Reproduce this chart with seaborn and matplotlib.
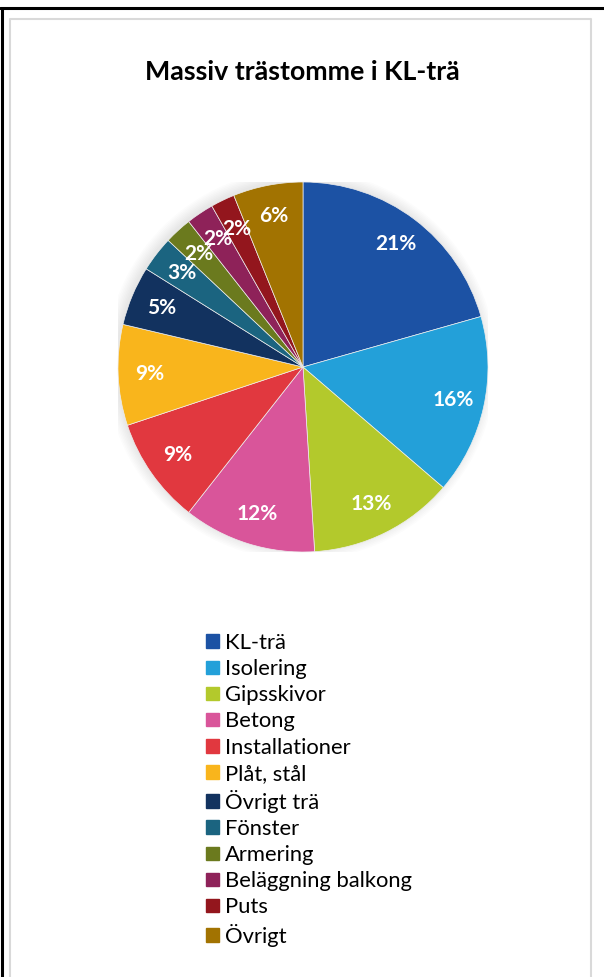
import matplotlib
matplotlib.use("Agg")
import matplotlib.pyplot as plt
from matplotlib.patches import Patch, Circle
from matplotlib.lines import Line2D
import seaborn as sns

sns.set_theme(style="white")
plt.rcParams['font.family'] = ['Lato', 'DejaVu Sans']

categories = ['KL-trä', 'Isolering', 'Gipsskivor', 'Betong', 'Installationer',
              'Plåt, stål', 'Övrigt trä', 'Fönster', 'Armering',
              'Beläggning balkong', 'Puts', 'Övrigt']
# shares in percent
shares = [20.6, 15.7, 12.7, 11.6, 9.3, 8.8, 5.2, 3.1, 2.4, 2.4, 2.1, 6.1]
colors = ['#1c52a4', '#23a0d9', '#b3c92c', '#d9559a', '#e1383f', '#f9b51c',
          '#12325f', '#1b6480', '#6b7a1e', '#8e2259', '#93161d', '#a27301']

fig = plt.figure(figsize=(6.04, 9.77), dpi=100)

# frame lines like the pasted screenshot
fig.add_artist(Line2D([0, 1], [1 - 8 / 977, 1 - 8 / 977], color='black', lw=2.2))
fig.add_artist(Line2D([1.5 / 604, 1.5 / 604], [0, 1 - 8 / 977], color='black', lw=2.2))
fig.add_artist(Line2D([9.5 / 604, 9.5 / 604, 591 / 604, 591 / 604],
                      [0, 1 - 19 / 977, 1 - 19 / 977, 0], color='#d9d9d9', lw=1.5))

fig.text(0.5, 1 - 72 / 977, 'Massiv trästomme i KL-trä', ha='center', va='center',
         fontsize=19.3, fontweight='bold', color='black')

ax = fig.add_axes([118 / 604, 425 / 977, 370 / 604, 370 / 977])

# soft shadow
for i in range(8):
    ax.add_patch(Circle((-0.012, 0.012), 1.0 + i * 0.008, color='black',
                        alpha=0.012, lw=0, zorder=0))

wedges, texts, autotexts = ax.pie(
    shares, colors=colors, startangle=90, counterclock=False, radius=1,
    autopct='%1.0f%%', pctdistance=0.83,
    wedgeprops=dict(edgecolor='#eeeeee', linewidth=0.5),
    textprops=dict(color='white', fontsize=15, fontweight='bold'))
for t in autotexts:
    t.set_color('white')

ax.set_xlim(-1, 1)
ax.set_ylim(-1, 1)
ax.set_aspect('equal')
ax.axis('off')

handles = [Patch(color=c, label=l) for c, l in zip(colors, categories)]
leg = fig.legend(handles=handles, loc='upper left',
                 bbox_to_anchor=(195 / 604, 1 - 622 / 977), frameon=False,
                 fontsize=15.8, handlelength=0.58, handleheight=0.58,
                 handletextpad=0.3, labelspacing=0.28, borderpad=0)
for t in leg.get_texts():
    t.set_color('black')

fig.savefig('out.png', dpi=100, facecolor='white')
